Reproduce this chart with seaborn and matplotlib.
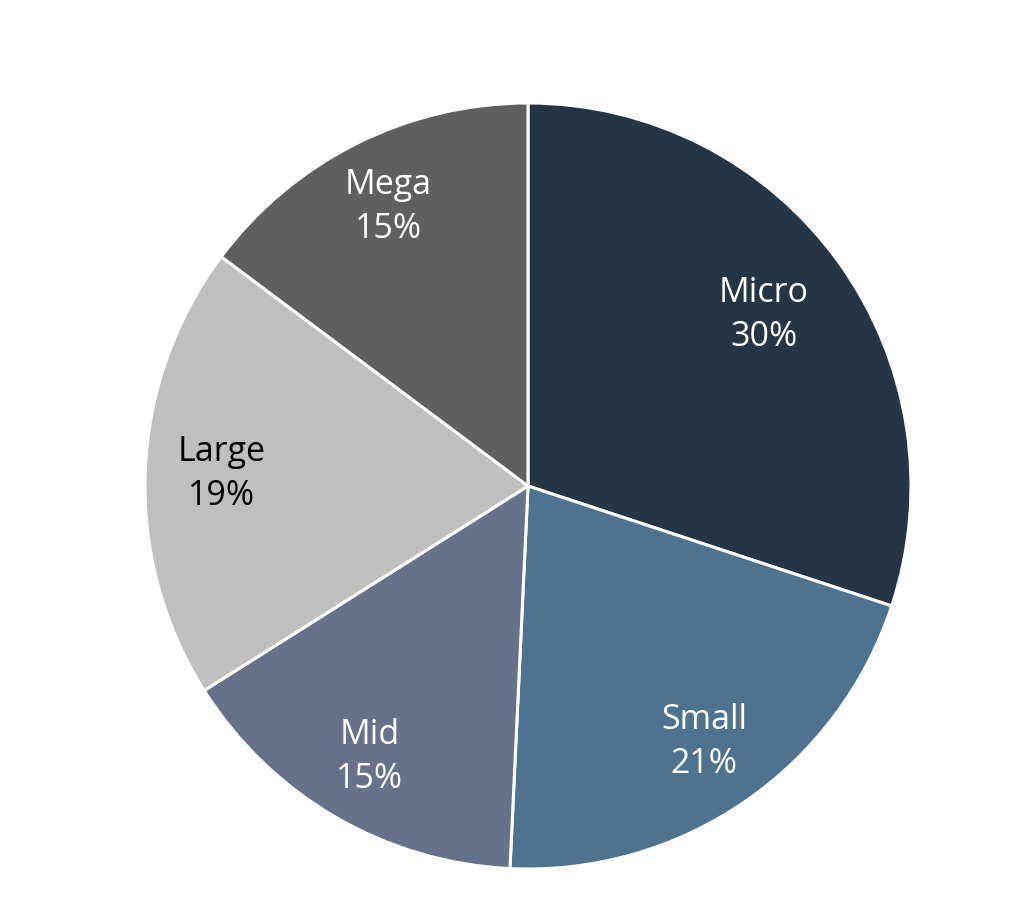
import matplotlib
matplotlib.use("Agg")
import matplotlib.pyplot as plt
import seaborn as sns
import numpy as np

# Data (shares read from the slice boundaries; labels shown rounded)
categories = ["Micro", "Small", "Mid", "Large", "Mega"]
shares = [30.1, 20.7, 15.3, 19.2, 14.8]
colors = ["#243646", "#4d7391", "#667289", "#bfbfbf", "#5f5f5f"]
label_colors = ["white", "white", "white", "black", "white"]
label_dist = [0.76, 0.81, 0.82, 0.80, 0.815]

sns.set_theme(style="white")
plt.rcParams["font.family"] = ["Open Sans", "DejaVu Sans"]

fig = plt.figure(figsize=(10.24, 9.05), dpi=100)
ax = fig.add_axes([145 / 1024, 36 / 905, 766 / 1024, 766 / 905])

wedges, texts = ax.pie(
    shares,
    colors=colors,
    startangle=90,
    counterclock=False,
    wedgeprops={"edgecolor": "white", "linewidth": 2.2},
)

# name + percentage inside each wedge
total = sum(shares)
for w, name, val, tc, r in zip(wedges, categories, shares, label_colors, label_dist):
    ang = np.deg2rad((w.theta1 + w.theta2) / 2)
    ax.text(r * np.cos(ang), r * np.sin(ang), f"{name}\n{val / total * 100:.0f}%",
            ha="center", va="center", color=tc, fontsize=24.5, linespacing=1.38)

ax.set_aspect("equal")
ax.set_xlim(-1, 1)
ax.set_ylim(-1, 1)
ax.axis("off")

fig.savefig("out.png", dpi=100, facecolor="white")
